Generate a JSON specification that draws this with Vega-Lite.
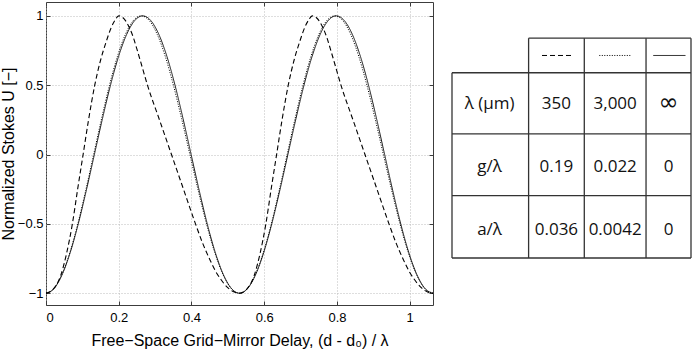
{
  "$schema": "https://vega.github.io/schema/vega-lite/v6.json",
  "padding": {"left": 0, "top": 1, "right": 0, "bottom": 0},
  "background": "white",
  "config": {"font": "Liberation Sans", "view": {"stroke": null}},
  "spacing": 15,
  "hconcat": [
    {
      "width": 387,
      "height": 303,
      "view": {"stroke": "#3c3c3c", "strokeWidth": 1},
      "data": {
        "values": [
          {"x": 0, "u": -1, "s": "solid"},
          {"x": 0.0222, "u": -0.9659, "s": "solid"},
          {"x": 0.0443, "u": -0.866, "s": "solid"},
          {"x": 0.0665, "u": -0.7071, "s": "solid"},
          {"x": 0.0887, "u": -0.5, "s": "solid"},
          {"x": 0.1108, "u": -0.2588, "s": "solid"},
          {"x": 0.133, "u": 0, "s": "solid"},
          {"x": 0.1552, "u": 0.2588, "s": "solid"},
          {"x": 0.1773, "u": 0.5, "s": "solid"},
          {"x": 0.1995, "u": 0.7071, "s": "solid"},
          {"x": 0.2217, "u": 0.866, "s": "solid"},
          {"x": 0.2438, "u": 0.9659, "s": "solid"},
          {"x": 0.266, "u": 1, "s": "solid"},
          {"x": 0.2882, "u": 0.9659, "s": "solid"},
          {"x": 0.3103, "u": 0.866, "s": "solid"},
          {"x": 0.3325, "u": 0.7071, "s": "solid"},
          {"x": 0.3547, "u": 0.5, "s": "solid"},
          {"x": 0.3768, "u": 0.2588, "s": "solid"},
          {"x": 0.399, "u": 0, "s": "solid"},
          {"x": 0.4212, "u": -0.2588, "s": "solid"},
          {"x": 0.4433, "u": -0.5, "s": "solid"},
          {"x": 0.4655, "u": -0.7071, "s": "solid"},
          {"x": 0.4877, "u": -0.866, "s": "solid"},
          {"x": 0.5098, "u": -0.9659, "s": "solid"},
          {"x": 0.532, "u": -1, "s": "solid"},
          {"x": 0.5542, "u": -0.9659, "s": "solid"},
          {"x": 0.5763, "u": -0.866, "s": "solid"},
          {"x": 0.5985, "u": -0.7071, "s": "solid"},
          {"x": 0.6207, "u": -0.5, "s": "solid"},
          {"x": 0.6428, "u": -0.2588, "s": "solid"},
          {"x": 0.665, "u": 0, "s": "solid"},
          {"x": 0.6872, "u": 0.2588, "s": "solid"},
          {"x": 0.7093, "u": 0.5, "s": "solid"},
          {"x": 0.7315, "u": 0.7071, "s": "solid"},
          {"x": 0.7537, "u": 0.866, "s": "solid"},
          {"x": 0.7758, "u": 0.9659, "s": "solid"},
          {"x": 0.798, "u": 1, "s": "solid"},
          {"x": 0.8202, "u": 0.9659, "s": "solid"},
          {"x": 0.8423, "u": 0.866, "s": "solid"},
          {"x": 0.8645, "u": 0.7071, "s": "solid"},
          {"x": 0.8867, "u": 0.5, "s": "solid"},
          {"x": 0.9088, "u": 0.2588, "s": "solid"},
          {"x": 0.931, "u": 0, "s": "solid"},
          {"x": 0.9532, "u": -0.2588, "s": "solid"},
          {"x": 0.9753, "u": -0.5, "s": "solid"},
          {"x": 0.9975, "u": -0.7071, "s": "solid"},
          {"x": 1.0197, "u": -0.866, "s": "solid"},
          {"x": 1.0418, "u": -0.9659, "s": "solid"},
          {"x": 1.064, "u": -1, "s": "solid"},

          {"x": 0, "u": -1, "s": "dotted"},
          {"x": 0.0219, "u": -0.9659, "s": "dotted"},
          {"x": 0.0437, "u": -0.866, "s": "dotted"},
          {"x": 0.0656, "u": -0.7071, "s": "dotted"},
          {"x": 0.0875, "u": -0.5, "s": "dotted"},
          {"x": 0.1092, "u": -0.2588, "s": "dotted"},
          {"x": 0.131, "u": 0, "s": "dotted"},
          {"x": 0.1528, "u": 0.2588, "s": "dotted"},
          {"x": 0.1745, "u": 0.5, "s": "dotted"},
          {"x": 0.1963, "u": 0.7071, "s": "dotted"},
          {"x": 0.2182, "u": 0.866, "s": "dotted"},
          {"x": 0.24, "u": 0.9659, "s": "dotted"},
          {"x": 0.262, "u": 1, "s": "dotted"},
          {"x": 0.284, "u": 0.9659, "s": "dotted"},
          {"x": 0.3059, "u": 0.866, "s": "dotted"},
          {"x": 0.328, "u": 0.7071, "s": "dotted"},
          {"x": 0.3503, "u": 0.5, "s": "dotted"},
          {"x": 0.3728, "u": 0.2588, "s": "dotted"},
          {"x": 0.3956, "u": 0, "s": "dotted"},
          {"x": 0.4185, "u": -0.2588, "s": "dotted"},
          {"x": 0.4413, "u": -0.5, "s": "dotted"},
          {"x": 0.4641, "u": -0.7071, "s": "dotted"},
          {"x": 0.4868, "u": -0.866, "s": "dotted"},
          {"x": 0.5094, "u": -0.9659, "s": "dotted"},
          {"x": 0.532, "u": -1, "s": "dotted"},
          {"x": 0.5539, "u": -0.9659, "s": "dotted"},
          {"x": 0.5757, "u": -0.866, "s": "dotted"},
          {"x": 0.5976, "u": -0.7071, "s": "dotted"},
          {"x": 0.6195, "u": -0.5, "s": "dotted"},
          {"x": 0.6412, "u": -0.2588, "s": "dotted"},
          {"x": 0.663, "u": 0, "s": "dotted"},
          {"x": 0.6848, "u": 0.2588, "s": "dotted"},
          {"x": 0.7065, "u": 0.5, "s": "dotted"},
          {"x": 0.7283, "u": 0.7071, "s": "dotted"},
          {"x": 0.7502, "u": 0.866, "s": "dotted"},
          {"x": 0.772, "u": 0.9659, "s": "dotted"},
          {"x": 0.794, "u": 1, "s": "dotted"},
          {"x": 0.816, "u": 0.9659, "s": "dotted"},
          {"x": 0.8379, "u": 0.866, "s": "dotted"},
          {"x": 0.86, "u": 0.7071, "s": "dotted"},
          {"x": 0.8823, "u": 0.5, "s": "dotted"},
          {"x": 0.9048, "u": 0.2588, "s": "dotted"},
          {"x": 0.9276, "u": 0, "s": "dotted"},
          {"x": 0.9505, "u": -0.2588, "s": "dotted"},
          {"x": 0.9733, "u": -0.5, "s": "dotted"},
          {"x": 0.9961, "u": -0.7071, "s": "dotted"},
          {"x": 1.0188, "u": -0.866, "s": "dotted"},
          {"x": 1.0414, "u": -0.9659, "s": "dotted"},
          {"x": 1.064, "u": -1, "s": "dotted"},

          {"x": 0, "u": -1, "s": "dashed"},
          {"x": 0.02, "u": -0.97, "s": "dashed"},
          {"x": 0.04, "u": -0.875, "s": "dashed"},
          {"x": 0.056, "u": -0.72, "s": "dashed"},
          {"x": 0.0725, "u": -0.5, "s": "dashed"},
          {"x": 0.087, "u": -0.25, "s": "dashed"},
          {"x": 0.102, "u": 0, "s": "dashed"},
          {"x": 0.117, "u": 0.25, "s": "dashed"},
          {"x": 0.134, "u": 0.5, "s": "dashed"},
          {"x": 0.15, "u": 0.68, "s": "dashed"},
          {"x": 0.165, "u": 0.81, "s": "dashed"},
          {"x": 0.18, "u": 0.92, "s": "dashed"},
          {"x": 0.19, "u": 0.97, "s": "dashed"},
          {"x": 0.2, "u": 1, "s": "dashed"},
          {"x": 0.21, "u": 0.99, "s": "dashed"},
          {"x": 0.22, "u": 0.96, "s": "dashed"},
          {"x": 0.231, "u": 0.905, "s": "dashed"},
          {"x": 0.24, "u": 0.845, "s": "dashed"},
          {"x": 0.25, "u": 0.76, "s": "dashed"},
          {"x": 0.264, "u": 0.635, "s": "dashed"},
          {"x": 0.279, "u": 0.5, "s": "dashed"},
          {"x": 0.312, "u": 0.25, "s": "dashed"},
          {"x": 0.345, "u": 0, "s": "dashed"},
          {"x": 0.378, "u": -0.25, "s": "dashed"},
          {"x": 0.411, "u": -0.5, "s": "dashed"},
          {"x": 0.43, "u": -0.635, "s": "dashed"},
          {"x": 0.45, "u": -0.755, "s": "dashed"},
          {"x": 0.467, "u": -0.845, "s": "dashed"},
          {"x": 0.482, "u": -0.905, "s": "dashed"},
          {"x": 0.499, "u": -0.958, "s": "dashed"},
          {"x": 0.516, "u": -0.99, "s": "dashed"},
          {"x": 0.532, "u": -1, "s": "dashed"},
          {"x": 0.552, "u": -0.97, "s": "dashed"},
          {"x": 0.572, "u": -0.875, "s": "dashed"},
          {"x": 0.588, "u": -0.72, "s": "dashed"},
          {"x": 0.6045, "u": -0.5, "s": "dashed"},
          {"x": 0.619, "u": -0.25, "s": "dashed"},
          {"x": 0.634, "u": 0, "s": "dashed"},
          {"x": 0.649, "u": 0.25, "s": "dashed"},
          {"x": 0.666, "u": 0.5, "s": "dashed"},
          {"x": 0.682, "u": 0.68, "s": "dashed"},
          {"x": 0.697, "u": 0.81, "s": "dashed"},
          {"x": 0.712, "u": 0.92, "s": "dashed"},
          {"x": 0.722, "u": 0.97, "s": "dashed"},
          {"x": 0.732, "u": 1, "s": "dashed"},
          {"x": 0.742, "u": 0.99, "s": "dashed"},
          {"x": 0.752, "u": 0.96, "s": "dashed"},
          {"x": 0.763, "u": 0.905, "s": "dashed"},
          {"x": 0.772, "u": 0.845, "s": "dashed"},
          {"x": 0.782, "u": 0.76, "s": "dashed"},
          {"x": 0.796, "u": 0.635, "s": "dashed"},
          {"x": 0.811, "u": 0.5, "s": "dashed"},
          {"x": 0.844, "u": 0.25, "s": "dashed"},
          {"x": 0.877, "u": 0, "s": "dashed"},
          {"x": 0.91, "u": -0.25, "s": "dashed"},
          {"x": 0.943, "u": -0.5, "s": "dashed"},
          {"x": 0.962, "u": -0.635, "s": "dashed"},
          {"x": 0.982, "u": -0.755, "s": "dashed"},
          {"x": 0.999, "u": -0.845, "s": "dashed"},
          {"x": 1.014, "u": -0.905, "s": "dashed"},
          {"x": 1.031, "u": -0.958, "s": "dashed"},
          {"x": 1.048, "u": -0.99, "s": "dashed"},
          {"x": 1.064, "u": -1, "s": "dashed"}
        ]
      },
      "resolve": {"axis": {"x": "independent", "y": "independent"}},
      "layer": [
        {
          "transform": [{"filter": "datum.s != 'dotted'"}],
          "mark": {"type": "line", "interpolate": "monotone", "color": "black"},
          "encoding": {
            "x": {
              "field": "x", "type": "quantitative",
              "scale": {"domain": [0, 1.064], "nice": false, "zero": false},
              "axis": {
                "values": [0, 0.2, 0.4, 0.6, 0.8, 1], "format": "~g",
                "title": "Free−Space Grid−Mirror Delay, (d - d₀) / λ",
                "domain": false, "grid": true, "gridDash": [1, 2], "gridColor": "#b4b4b4", "gridWidth": 0.9,
                "ticks": true, "tickSize": -4, "tickColor": "#3c3c3c",
                "labelFontSize": 13, "labelColor": "black", "labelPadding": 10,
                "titleFontSize": 16, "titleFontWeight": "normal", "titleColor": "black", "titlePadding": 8
              }
            },
            "y": {
              "field": "u", "type": "quantitative",
              "scale": {"domain": [-1.085, 1.1], "nice": false, "zero": false},
              "axis": {
                "values": [-1, -0.5, 0, 0.5, 1], "format": "~g",
                "title": "Normalized Stokes U [−]",
                "domain": false, "grid": true, "gridDash": [1, 2], "gridColor": "#b4b4b4", "gridWidth": 0.9,
                "ticks": true, "tickSize": -4, "tickColor": "#3c3c3c",
                "labelFontSize": 13, "labelColor": "black", "labelPadding": 7,
                "minExtent": 28, "maxExtent": 28,
                "titleFontSize": 16, "titleFontWeight": "normal", "titleColor": "black", "titlePadding": 1.5
              }
            },
            "detail": {"field": "s"},
            "strokeDash": {"field": "s", "type": "nominal", "scale": {"domain": ["dashed", "dotted", "solid"], "range": [[5, 3], [1, 1.5], [1, 0]]}, "legend": null},
            "strokeWidth": {"field": "s", "type": "nominal", "scale": {"domain": ["dashed", "dotted", "solid"], "range": [1.1, 0.9, 1.3]}, "legend": null}
          }
        },
        {
          "transform": [{"filter": "datum.s == 'dotted'"}],
          "mark": {"type": "line", "interpolate": "monotone", "color": "black"},
          "encoding": {
            "x": {
              "field": "x", "type": "quantitative",
              "axis": {"orient": "top", "values": [0, 0.2, 0.4, 0.6, 0.8, 1], "labels": false, "title": null, "domain": false, "grid": false, "ticks": true, "tickSize": -4, "tickColor": "#3c3c3c"}
            },
            "y": {
              "field": "u", "type": "quantitative",
              "axis": {"orient": "right", "values": [-1, -0.5, 0, 0.5, 1], "labels": false, "title": null, "domain": false, "grid": false, "ticks": true, "tickSize": -4, "tickColor": "#3c3c3c"}
            },
            "detail": {"field": "s"},
            "strokeDash": {"field": "s", "type": "nominal", "legend": null},
            "strokeWidth": {"field": "s", "type": "nominal", "legend": null}
          }
        }
      ]
    },
    {
      "width": 239,
      "height": 256,
      "view": {"stroke": null},
      "layer": [
        {
          "data": {
            "values": [
              {"x1": 1, "x2": 3.12, "y1": 0, "y2": 0},
              {"x1": 0, "x2": 3.12, "y1": 0.56, "y2": 0.56},
              {"x1": 0, "x2": 3.12, "y1": 1.55, "y2": 1.55},
              {"x1": 0, "x2": 3.12, "y1": 2.55, "y2": 2.55},
              {"x1": 0, "x2": 3.12, "y1": 3.56, "y2": 3.56},
              {"x1": 0, "x2": 0, "y1": 0.56, "y2": 3.56},
              {"x1": 1, "x2": 1, "y1": 0, "y2": 3.56},
              {"x1": 1.727, "x2": 1.727, "y1": 0, "y2": 3.56},
              {"x1": 2.533, "x2": 2.533, "y1": 0, "y2": 3.56},
              {"x1": 3.12, "x2": 3.12, "y1": 0, "y2": 3.56}
            ]
          },
          "mark": {"type": "rule", "color": "#333333", "strokeWidth": 1.3},
          "encoding": {
            "x": {"field": "x1", "type": "quantitative", "scale": {"domain": [0, 3.12], "nice": false, "zero": false}, "axis": null},
            "x2": {"field": "x2"},
            "y": {"field": "y1", "type": "quantitative", "scale": {"domain": [-0.586, 3.56], "reverse": true, "nice": false, "zero": false}, "axis": null},
            "y2": {"field": "y2"}
          }
        },
        {
          "data": {
            "values": [
              {"x1": 1.175, "x2": 1.567, "y": 0.28, "s": "dashed"},
              {"x1": 1.923, "x2": 2.328, "y": 0.28, "s": "dotted"},
              {"x1": 2.629, "x2": 3.047, "y": 0.28, "s": "solid"}
            ]
          },
          "mark": {"type": "rule", "color": "black", "strokeWidth": 1},
          "encoding": {
            "x": {"field": "x1", "type": "quantitative", "axis": null},
            "x2": {"field": "x2"},
            "y": {"field": "y", "type": "quantitative", "axis": null},
            "strokeDash": {"field": "s", "type": "nominal", "scale": {"domain": ["dashed", "dotted", "solid"], "range": [[4, 3.5], [1, 1], [1, 0]]}, "legend": null}
          }
        },
        {
          "data": {
            "values": [
              {"cx": 0.49, "cy": 1.07, "t": "λ (μm)"},
              {"cx": 1.363, "cy": 1.07, "t": "350"},
              {"cx": 2.13, "cy": 1.07, "t": "3,000"},
              {"cx": 2.827, "cy": 1.05, "t": "∞"},
              {"cx": 0.49, "cy": 2.09, "t": "g/λ"},
              {"cx": 1.363, "cy": 2.09, "t": "0.19"},
              {"cx": 2.13, "cy": 2.09, "t": "0.022"},
              {"cx": 2.827, "cy": 2.09, "t": "0"},
              {"cx": 0.49, "cy": 3.1, "t": "a/λ"},
              {"cx": 1.363, "cy": 3.1, "t": "0.036"},
              {"cx": 2.13, "cy": 3.1, "t": "0.0042"},
              {"cx": 2.827, "cy": 3.1, "t": "0"}
            ]
          },
          "layer": [
            {
              "transform": [{"filter": "datum.t != '∞'"}],
              "mark": {"type": "text", "font": "Open Sans", "fontSize": 17, "color": "#111111", "baseline": "middle", "align": "center"},
              "encoding": {
                "x": {"field": "cx", "type": "quantitative", "axis": null},
                "y": {"field": "cy", "type": "quantitative", "axis": null},
                "text": {"field": "t"}
              }
            },
            {
              "transform": [{"filter": "datum.t == '∞'"}],
              "mark": {"type": "text", "font": "DejaVu Sans", "fontSize": 24, "color": "#111111", "baseline": "middle", "align": "center"},
              "encoding": {
                "x": {"field": "cx", "type": "quantitative", "axis": null},
                "y": {"field": "cy", "type": "quantitative", "axis": null},
                "text": {"field": "t"}
              }
            }
          ]
        }
      ]
    }
  ]
}
